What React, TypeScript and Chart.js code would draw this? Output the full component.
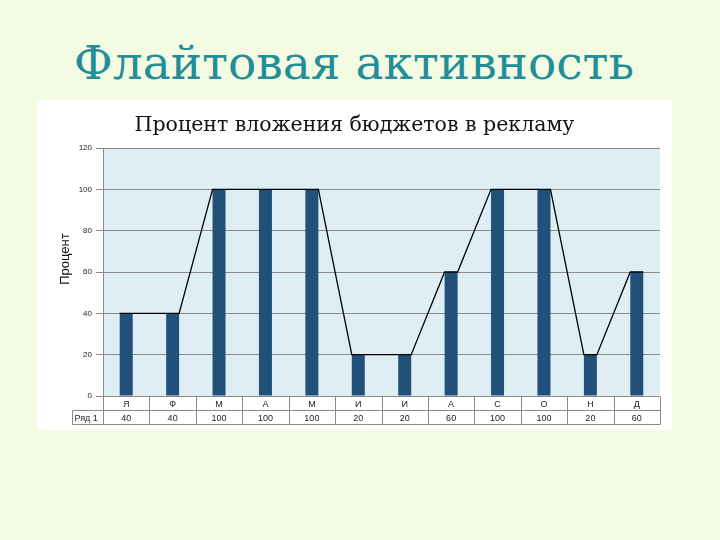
import { useEffect, useRef } from 'react'
import { Chart, registerables } from 'chart.js'
import type { Plugin } from 'chart.js'

Chart.register(...registerables)

// Données
const months = ['Я', 'Ф', 'М', 'А', 'М', 'И', 'И', 'А', 'С', 'О', 'Н', 'Д']
const budgetShare = [40, 40, 100, 100, 100, 20, 20, 60, 100, 100, 20, 60]
const seriesName = 'Ряд 1'
const yMax = 120
const yStep = 20

const pageTitle = 'Флайтовая активность'
const chartTitle = 'Процент вложения бюджетов в рекламу'
const yTitle = 'Процент'

const BAR_PCT = 0.28
const ROW_H = 14
const LEFT_CELL = 31

// Fond bleu clair de la zone de tracé
const plotBg: Plugin<'bar'> = {
    id: 'plotBg',
    beforeDraw(chart) {
        const { ctx, chartArea: a } = chart
        ctx.save()
        ctx.fillStyle = '#dfeef3'
        ctx.fillRect(a.left, a.top, a.width, a.height)
        ctx.restore()
    },
}

// Titre, titre d'axe et tableau de données sous l'axe
const dataTable: Plugin<'bar'> = {
    id: 'dataTable',
    afterDraw(chart) {
        const { ctx, chartArea: a, width } = chart
        const x = chart.scales.x
        const n = months.length
        const w = x.getPixelForValue(1) - x.getPixelForValue(0)
        const top = Math.round(a.bottom) + 0.5
        const r1 = top + ROW_H
        const r2 = top + 2 * ROW_H
        const left = Math.round(a.left - LEFT_CELL) + 0.5
        const right = Math.round(a.right) + 0.5

        ctx.save()
        ctx.strokeStyle = '#8a8a8a'
        ctx.lineWidth = 1
        ctx.beginPath()
        ctx.moveTo(left, r1); ctx.lineTo(right, r1)
        ctx.moveTo(left, r2); ctx.lineTo(right, r2)
        ctx.moveTo(left, r1); ctx.lineTo(left, r2)
        for (let i = 0; i <= n; i++) {
            const xp = Math.round(x.getPixelForValue(i) - w / 2) + 0.5
            ctx.moveTo(xp, top); ctx.lineTo(xp, r2)
        }
        ctx.stroke()

        ctx.fillStyle = '#222'
        ctx.font = '9px "Liberation Sans", Arial, sans-serif'
        ctx.textAlign = 'center'
        ctx.textBaseline = 'middle'
        months.forEach((m, i) => {
            const xp = x.getPixelForValue(i)
            ctx.fillText(m, xp, top + ROW_H / 2 + 1)
            ctx.fillText(String(budgetShare[i]), xp, r1 + ROW_H / 2 + 1)
        })
        ctx.textAlign = 'left'
        ctx.fillText(seriesName, left + 2, r1 + ROW_H / 2 + 1)

        ctx.fillStyle = '#111'
        ctx.font = '20.5px "DejaVu Serif", serif'
        ctx.textAlign = 'center'
        ctx.textBaseline = 'alphabetic'
        ctx.fillText(chartTitle, width / 2, 31)

        ctx.translate(28, 159)
        ctx.rotate(-Math.PI / 2)
        ctx.font = '13px "Liberation Sans", Arial, sans-serif'
        ctx.textBaseline = 'middle'
        ctx.fillText(yTitle, 0, 0)
        ctx.restore()
    },
}

function BudgetChart() {
    const canvasRef = useRef<HTMLCanvasElement>(null)

    useEffect(() => {
        if (!canvasRef.current) return
        const half = BAR_PCT / 2
        const bars = budgetShare.map((v, i) => ({ x: i, y: v }))
        const edges = budgetShare.flatMap((v, i) => [
            { x: i - half, y: v },
            { x: i + half, y: v },
        ])

        const chart = new Chart(canvasRef.current, {
            type: 'bar',
            data: {
                datasets: [
                    {
                        type: 'line',
                        label: seriesName + ' (линия)',
                        data: edges as any,
                        borderColor: '#000',
                        borderWidth: 1.3,
                        pointRadius: 0,
                        tension: 0,
                        fill: false,
                    } as any,
                    {
                        type: 'bar',
                        label: seriesName,
                        data: bars as any,
                        backgroundColor: '#21507a',
                        barPercentage: BAR_PCT,
                        categoryPercentage: 1,
                        grouped: false,
                    },
                ],
            },
            options: {
                animation: false,
                responsive: true,
                maintainAspectRatio: false,
                layout: { padding: { left: 0, right: 12, top: 48, bottom: 0 } },
                plugins: {
                    legend: { display: false },
                    tooltip: { enabled: false },
                    title: { display: false },
                },
                scales: {
                    x: {
                        type: 'linear',
                        offset: false,
                        min: -0.5,
                        max: months.length - 0.5,
                        ticks: { display: false },
                        grid: { display: false, offset: false },
                        border: { display: false },
                        afterFit: (s) => { s.height = 34 },
                    },
                    y: {
                        min: 0,
                        max: yMax,
                        ticks: {
                            stepSize: yStep,
                            color: '#222',
                            padding: 4,
                            font: { family: '"Liberation Sans", Arial, sans-serif', size: 8 },
                        },
                        grid: { color: '#8a8a8a', lineWidth: 1, tickLength: 7 },
                        border: { color: '#8a8a8a' },
                        afterFit: (s) => { s.width = 66 },
                    },
                },
            },
            plugins: [plotBg, dataTable],
        })

        return () => chart.destroy()
    }, [])

    return <canvas ref={canvasRef}></canvas>
}

export default function App() {
    return (
        <div style={{ position: 'fixed', left: 0, top: 0, width: 720, height: 540, background: '#f3fbe2', overflow: 'hidden' }}>
            <div style={{
                position: 'absolute', left: 0, top: 40, width: 708, textAlign: 'center',
                font: '47px/46px "DejaVu Serif", serif', color: '#238e98',
            }}>
                {pageTitle}
            </div>
            <div style={{ position: 'absolute', left: 37, top: 100, width: 635, height: 330, background: '#fff' }}>
                <BudgetChart />
            </div>
        </div>
    )
}
